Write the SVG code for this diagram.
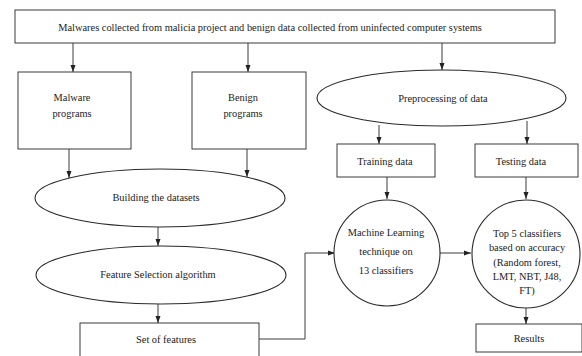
<svg xmlns="http://www.w3.org/2000/svg" width="582" height="356" viewBox="0 0 582 356">
<defs>
<style>
.box{fill:#fff;stroke:#3a3a3a;stroke-width:1}
.shape{fill:#fff;stroke:#2a2a2a;stroke-width:1.1}
.t{font-family:"Liberation Serif","Times New Roman",serif;font-size:10.4px;fill:#222;text-anchor:middle}
.c{fill:none;stroke:#3a3a3a;stroke-width:1}
</style>
<marker id="ah" markerUnits="userSpaceOnUse" markerWidth="8" markerHeight="8" viewBox="0 0 8 8" refX="7" refY="4" orient="auto">
<path d="M0,1.5 L7,4 L0,6.5 Z" fill="#222"/>
</marker>
</defs>
<rect width="582" height="356" fill="#fff"/>
<g id="connectors">
<line class="c" x1="73" y1="43" x2="73" y2="72" marker-end="url(#ah)"/>
<line class="c" x1="248" y1="43" x2="248" y2="72" marker-end="url(#ah)"/>
<line class="c" x1="442" y1="43" x2="442" y2="70" marker-end="url(#ah)"/>
<line class="c" x1="69" y1="149" x2="69" y2="178" marker-end="url(#ah)"/>
<line class="c" x1="247" y1="149" x2="247" y2="177" marker-end="url(#ah)"/>
<line class="c" x1="158" y1="227" x2="158" y2="246" marker-end="url(#ah)"/>
<line class="c" x1="158" y1="304" x2="158" y2="323" marker-end="url(#ah)"/>
<line class="c" x1="379" y1="125" x2="379" y2="144" marker-end="url(#ah)"/>
<line class="c" x1="527" y1="121" x2="527" y2="144" marker-end="url(#ah)"/>
<line class="c" x1="387" y1="177" x2="387" y2="199" marker-end="url(#ah)"/>
<line class="c" x1="526" y1="177" x2="526" y2="199" marker-end="url(#ah)"/>
<polyline class="c" points="259,339 305,339 305,253 335,253" marker-end="url(#ah)"/>
<line class="c" x1="440" y1="253" x2="471" y2="253" marker-end="url(#ah)"/>
<line class="c" x1="526" y1="308" x2="526" y2="324" marker-end="url(#ah)"/>
</g>
<g id="source">
<rect class="box" x="15" y="10" width="540" height="33"/>
<text class="t" x="270" y="30.5">Malwares collected from malicia project and benign data collected from uninfected computer systems</text>
</g>
<g id="malware">
<rect class="box" x="18" y="72" width="113" height="77"/>
<text class="t" x="72" y="100.5">Malware</text>
<text class="t" x="72" y="116.5">programs</text>
</g>
<g id="benign">
<rect class="box" x="192" y="72" width="114" height="77"/>
<text class="t" x="243" y="100.5">Benign</text>
<text class="t" x="243" y="116.5">programs</text>
</g>
<g id="preprocessing">
<ellipse class="shape" cx="441.5" cy="98" rx="124.5" ry="28"/>
<text class="t" x="443" y="101.5">Preprocessing of data</text>
</g>
<g id="building">
<ellipse class="shape" cx="160" cy="198" rx="125" ry="29"/>
<text class="t" x="156" y="200.5">Building the datasets</text>
</g>
<g id="feature">
<ellipse class="shape" cx="161" cy="275" rx="125" ry="29"/>
<text class="t" x="158" y="277.5">Feature Selection algorithm</text>
</g>
<g id="set">
<rect class="box" x="80" y="323" width="179" height="40"/>
<text class="t" x="166" y="342.5">Set of features</text>
</g>
<g id="training">
<rect class="box" x="337" y="144" width="98" height="33"/>
<text class="t" x="385" y="165">Training data</text>
</g>
<g id="testing">
<rect class="box" x="475" y="144" width="103" height="33"/>
<text class="t" x="521" y="165">Testing data</text>
</g>
<g id="ml">
<circle class="shape" cx="387" cy="253" r="53"/>
<text class="t" x="386" y="235.5">Machine Learning</text>
<text class="t" x="386" y="254.5">technique on</text>
<text class="t" x="386" y="273.5">13 classifiers</text>
</g>
<g id="top5">
<circle class="shape" cx="526" cy="254" r="54"/>
<text class="t" x="527" y="236.5">Top 5 classifiers</text>
<text class="t" x="527" y="250.5">based on accuracy</text>
<text class="t" x="527" y="265.5">(Random forest,</text>
<text class="t" x="527" y="279.5">LMT, NBT, J48,</text>
<text class="t" x="527" y="293.5">FT)</text>
</g>
<g id="results">
<rect class="box" x="476" y="324" width="106" height="28"/>
<text class="t" x="529" y="341.5">Results</text>
</g>
</svg>
